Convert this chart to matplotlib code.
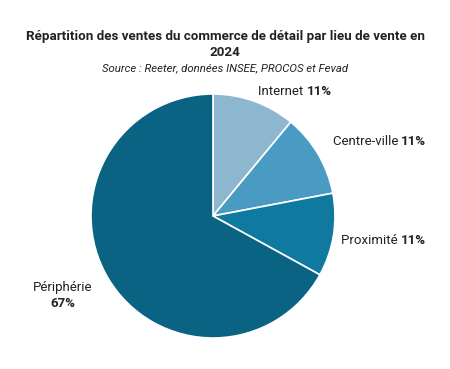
import matplotlib.pyplot as plt

plt.rcParams['font.family'] = ['Roboto', 'DejaVu Sans']

lieux = ['Internet', 'Centre-ville', 'Proximité', 'Périphérie']
parts = [11, 11, 11, 67]
couleurs = ['#8db6cf', '#4a9bc3', '#10799f', '#0b6384']

fig = plt.figure(figsize=(4.5, 3.69), dpi=100)

fig.text(0.5, 0.88, 'Répartition des ventes du commerce de détail par lieu de vente en\n2024',
         ha='center', va='center', fontsize=9.6, fontweight='bold', color='#222222',
         linespacing=1.25)
fig.text(0.5, 0.814, 'Source : Reeter, données INSEE, PROCOS et Fevad',
         ha='center', va='center', fontsize=8.2, style='italic', color='#222222')

ax = fig.add_axes([91 / 450, 31 / 369, 244 / 450, 244 / 369])
ax.pie(parts, colors=couleurs, startangle=90, counterclock=False,
       wedgeprops=dict(edgecolor='white', linewidth=1.2))
ax.set_xlim(-1, 1)
ax.set_ylim(-1, 1)
ax.set_aspect('equal')

# name regular + percentage bold
positions = [(0.37, 1.02, 'left'), (0.98, 0.61, 'left'), (1.05, -0.2, 'left')]
for (x, y, ha), nom, p in zip(positions, lieux[:3], parts[:3]):
    t = ax.text(x, y, nom + ' ', ha=ha, va='center', fontsize=9.5, color='#222222',
                clip_on=False)
    ax.annotate(f'{p}%', xy=(1, 0), xycoords=t, va='bottom', ha='left',
                fontsize=9.5, fontweight='bold', color='#222222')

ax.text(-1.23, -0.59, lieux[3], ha='center', va='center', fontsize=9.5, color='#222222')
ax.text(-1.23, -0.72, f'{parts[3]}%', ha='center', va='center', fontsize=9.5,
        fontweight='bold', color='#222222')

fig.savefig('out.png', dpi=100)
